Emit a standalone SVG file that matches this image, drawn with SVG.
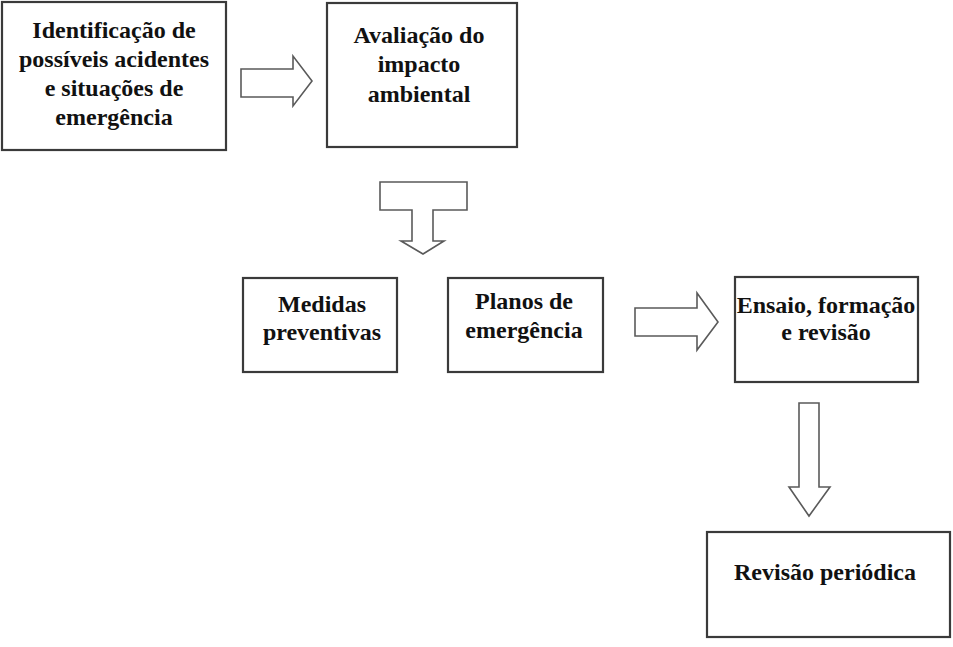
<svg xmlns="http://www.w3.org/2000/svg" width="953" height="647" viewBox="0 0 953 647">
<style>
.box{fill:#fff;stroke:#3a3a3a;stroke-width:2.2}
.arr{fill:#fff;stroke:#5a5a5a;stroke-width:1.6;stroke-linejoin:miter}
text{font-family:"Liberation Serif","Times New Roman",serif;font-weight:bold;font-size:24px;fill:#111;text-anchor:middle}
</style>
<rect width="953" height="647" fill="#fff"/>
<g id="connectors">
<path class="arr" d="M241,69 H293 V56 L312,81 L293,106 V97 H241 Z"/>
<path class="arr" d="M380,182 H467 V210 H433 V241 H444 L423,254 L401,241 H412 V210 H380 Z"/>
<path class="arr" d="M635,308 H697 V293 L718,322 L697,350 V336 H635 Z"/>
<path class="arr" d="M799,403 H819 V487 H830 L809,516 L789,487 H799 Z"/>
</g>
<g id="n1">
<rect class="box" x="2" y="2" width="224" height="148"/>
<text x="114" y="38">Identificação de</text>
<text x="114" y="67">possíveis acidentes</text>
<text x="114" y="96">e situações de</text>
<text x="114" y="125">emergência</text>
</g>
<g id="n2">
<rect class="box" x="327" y="3" width="190" height="144"/>
<text x="419" y="43">Avaliação do</text>
<text x="419" y="72">impacto</text>
<text x="419" y="102">ambiental</text>
</g>
<g id="n3">
<rect class="box" x="243" y="278" width="154" height="94"/>
<text x="322" y="312">Medidas</text>
<text x="322" y="340">preventivas</text>
</g>
<g id="n4">
<rect class="box" x="448" y="278" width="155" height="94"/>
<text x="524" y="309">Planos de</text>
<text x="524" y="338">emergência</text>
</g>
<g id="n5">
<rect class="box" x="735" y="277" width="183" height="105"/>
<text x="826" y="313">Ensaio, formação</text>
<text x="826" y="340">e revisão</text>
</g>
<g id="n6">
<rect class="box" x="707" y="532" width="243" height="105"/>
<text x="825" y="580">Revisão periódica</text>
</g>
</svg>
